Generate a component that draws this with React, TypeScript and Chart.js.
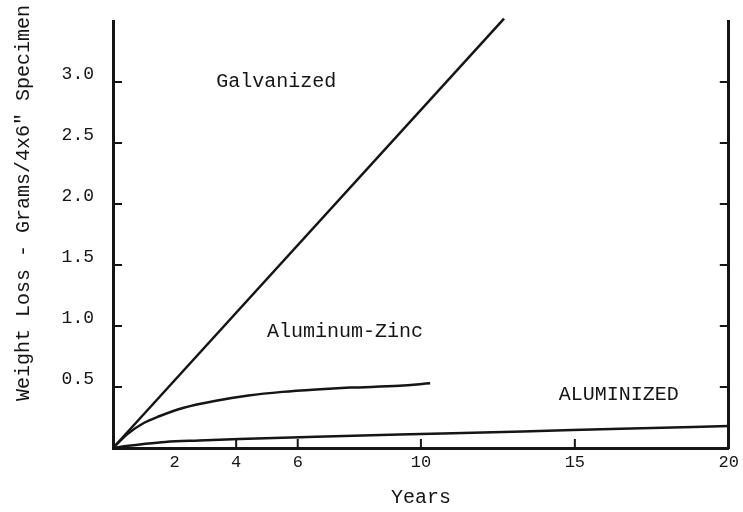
import React, { useEffect, useRef } from "react";
import { Chart, registerables } from "chart.js";

Chart.register(...registerables);

// ---- data ----
const galvYears = [0, 12.7];
const galvLoss = [0, 3.52];

const alznYears = [0, 0.5, 1.0, 1.5, 2.3, 3.3, 4.4, 5.5, 6.6, 7.7, 9.3, 10.3];
const alznLoss = [0, 0.12, 0.205, 0.26, 0.33, 0.385, 0.43, 0.46, 0.48, 0.495, 0.51, 0.53];

const alumYears = [0, 0.5, 1.0, 1.7, 2.8, 4.1, 6.6, 9.3, 13.3, 16.5, 20];
const alumLoss = [0, 0.018, 0.033, 0.05, 0.062, 0.074, 0.092, 0.11, 0.135, 0.158, 0.18];

const xTickValues = [2, 4, 6, 10, 15, 20];
const xTickMarks = [4, 6, 10, 15];
const yTickValues = [0.5, 1.0, 1.5, 2.0, 2.5, 3.0];

const seriesLabels = ["Galvanized", "Aluminum-Zinc", "ALUMINIZED"];
const labelYears = [3.35, 5.0, 14.48];
const labelLoss = [3.0, 0.95, 0.434];

const xTitle = "Years";
const yTitle = 'Weight Loss - Grams/4x6" Specimen';

const INK = "#151515";
const FONT = '"Liberation Mono", "DejaVu Sans Mono", monospace';

const toPoints = (xs: number[], ys: number[]) => xs.map((x, i) => ({ x, y: ys[i] }));

const paperPlugin = {
  id: "paperMarks",
  afterDatasetsDraw(chart: any) {
    const { ctx, chartArea, scales } = chart;
    const xs = scales.x;
    const ys = scales.y;
    ctx.save();
    ctx.strokeStyle = INK;
    ctx.lineWidth = 2;
    ctx.beginPath();
    yTickValues.forEach((v) => {
      const py = ys.getPixelForValue(v);
      ctx.moveTo(chartArea.left, py);
      ctx.lineTo(chartArea.left + 9, py);
      ctx.moveTo(chartArea.right, py);
      ctx.lineTo(chartArea.right - 9, py);
    });
    xTickMarks.forEach((v) => {
      const px = xs.getPixelForValue(v);
      ctx.moveTo(px, chartArea.bottom);
      ctx.lineTo(px, chartArea.bottom - 9);
    });
    ctx.stroke();

    ctx.font = `20px ${FONT}`;
    ctx.fillStyle = INK;
    ctx.textAlign = "left";
    ctx.textBaseline = "middle";
    seriesLabels.forEach((t, i) => {
      ctx.fillText(t, xs.getPixelForValue(labelYears[i]), ys.getPixelForValue(labelLoss[i]));
    });

    // vertical axis title
    ctx.translate(24, 203);
    ctx.rotate(-Math.PI / 2);
    ctx.textAlign = "center";
    ctx.fillText(yTitle, 0, 0);
    ctx.restore();
  },
};

export default function App() {
  const ref = useRef<HTMLCanvasElement | null>(null);

  useEffect(() => {
    if (!ref.current) return;
    const lineStyle = {
      borderColor: INK,
      backgroundColor: INK,
      borderWidth: 2.5,
      pointRadius: 0,
      fill: false,
      clip: false as any,
    };
    const chart = new Chart(ref.current, {
      type: "line",
      data: {
        datasets: [
          { ...lineStyle, label: seriesLabels[0], data: toPoints(galvYears, galvLoss), tension: 0 },
          {
            ...lineStyle,
            label: seriesLabels[1],
            data: toPoints(alznYears, alznLoss),
            cubicInterpolationMode: "monotone",
          },
          {
            ...lineStyle,
            label: seriesLabels[2],
            data: toPoints(alumYears, alumLoss),
            cubicInterpolationMode: "monotone",
          },
        ],
      },
      options: {
        animation: false,
        responsive: false,
        devicePixelRatio: 1,
        layout: { padding: { top: 21, right: 10, left: 0, bottom: 0 } },
        plugins: {
          legend: { display: false },
          tooltip: { enabled: false },
        },
        scales: {
          x: {
            type: "linear",
            min: 0,
            max: 20,
            afterBuildTicks: (scale: any) => {
              scale.ticks = xTickValues.map((value) => ({ value }));
            },
            afterFit: (scale: any) => {
              scale.height = 64;
            },
            ticks: {
              color: INK,
              font: { family: FONT, size: 17 },
              padding: 4,
              maxRotation: 0,
              autoSkip: false,
              callback: (v: any) => String(v),
            },
            grid: { display: true, drawOnChartArea: false, drawTicks: false },
            border: { display: true, color: INK, width: 3 },
            title: {
              display: true,
              text: xTitle,
              color: INK,
              font: { family: FONT, size: 20 },
              padding: { top: 0, bottom: 2 },
            },
          },
          y: {
            type: "linear",
            position: "left",
            min: 0,
            max: 3.5,
            afterBuildTicks: (scale: any) => {
              scale.ticks = yTickValues.map((value) => ({ value }));
            },
            afterFit: (scale: any) => {
              scale.width = 113;
            },
            ticks: {
              color: INK,
              font: { family: FONT, size: 18 },
              padding: 4,
              labelOffset: -8,
              callback: (v: any) => Number(v).toFixed(1),
            },
            grid: {
              display: true,
              drawOnChartArea: false,
              drawTicks: true,
              tickLength: 15,
              tickColor: "rgba(0,0,0,0)",
            },
            border: { display: true, color: INK, width: 3 },
          },
          y2: {
            type: "linear",
            position: "right",
            min: 0,
            max: 3.5,
            afterFit: (scale: any) => {
              scale.width = 0;
            },
            ticks: { display: false },
            grid: { display: true, drawOnChartArea: false, drawTicks: false },
            border: { display: true, color: INK, width: 3 },
          },
        },
      },
      plugins: [paperPlugin],
    });
    return () => chart.destroy();
  }, []);

  return (
    <div style={{ position: "absolute", left: 0, top: 0, width: 743, height: 512, background: "#fff" }}>
      <canvas ref={ref} width={743} height={512} style={{ display: "block" }} />
    </div>
  );
}
